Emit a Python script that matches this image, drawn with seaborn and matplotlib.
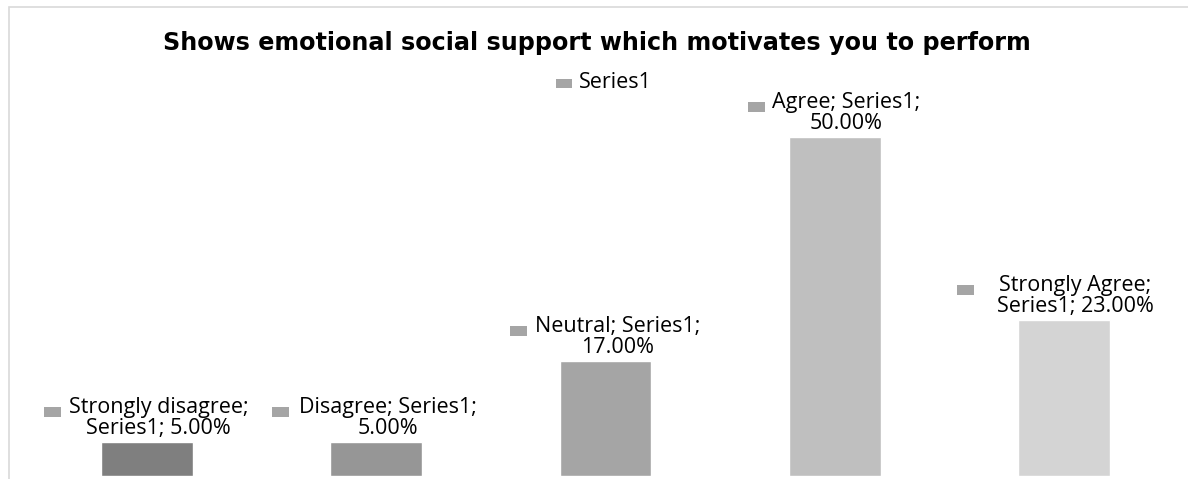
import matplotlib
matplotlib.use("Agg")
import matplotlib.pyplot as plt
import seaborn as sns
import pandas as pd
from matplotlib.patches import Rectangle

categories = ["Strongly disagree", "Disagree", "Neutral", "Agree", "Strongly Agree"]
values = [5.0, 5.0, 17.0, 50.0, 23.0]
series_name = "Series1"
title = "Shows emotional social support which motivates you to perform"
bar_colors = ["#7f7f7f", "#969696", "#a5a5a5", "#bfbfbf", "#d4d4d4"]
key_color = "#a5a5a5"

sns.set_theme(style="white")
plt.rcParams["font.family"] = ["Open Sans", "DejaVu Sans"]

W, H, DPI = 1188, 479, 100
PX = 72.0 / DPI  # points per pixel
LABEL_SIZE = 15.5
fig = plt.figure(figsize=(W / DPI, H / DPI), dpi=DPI)

# chart frame (runs past the right and bottom edges)
fig.patches.append(Rectangle((9 / W, -0.1), 1.2, (1 - 7 / H) + 0.1,
                             transform=fig.transFigure, fill=False,
                             edgecolor="#d9d9d9", linewidth=1.2))

ax = fig.add_axes([32 / W, 3 / H, (1179 - 32) / W, (476 - 69.2) / H])
df = pd.DataFrame({"category": categories, "value": values})
sns.barplot(data=df, x="category", y="value", hue="category",
            palette=bar_colors, order=categories, hue_order=categories,
            width=0.4, legend=False, ax=ax, saturation=1)
ax.set_ylim(0, 60)
ax.set_xlim(-0.5, len(categories) - 0.5)
ax.axis("off")

fig.text(0.5025, 1 - 43 / H, title, ha="center", va="center",
         fontsize=17.2, fontweight="bold", family="DejaVu Sans", color="#000000")

label_texts = [
    "Strongly disagree;\nSeries1; 5.00%",
    "Disagree; Series1;\n5.00%",
    "Neutral; Series1;\n17.00%",
    "Agree; Series1;\n50.00%",
    "Strongly Agree;\nSeries1; 23.00%",
]
x_shift = [12, 12, 12, 11, 11]
key_gap = [8, 10, 8, 7, 23]

texts = []
for i, (v, lab) in enumerate(zip(values, label_texts)):
    t = ax.annotate(lab, xy=(i, v), xytext=(x_shift[i] * PX, 3 * PX),
                    textcoords="offset points", ha="center", va="bottom",
                    fontsize=LABEL_SIZE, color="#000000", linespacing=0.98,
                    annotation_clip=False)
    texts.append(t)

fig.canvas.draw()
renderer = fig.canvas.get_renderer()
for t, gap in zip(texts, key_gap):
    bb = t.get_window_extent(renderer)
    # legend key square left of the label, beside the first line
    kx = bb.x0 - gap - 17
    ky = bb.y1 - 10 - 10
    fig.patches.append(Rectangle((kx / W, ky / H), 17 / W, 10 / H,
                                 transform=fig.transFigure,
                                 facecolor=key_color, edgecolor="none"))

# series legend
fig.patches.append(Rectangle((556 / W, (H - 88) / H), 16 / W, 9 / H,
                             transform=fig.transFigure,
                             facecolor=key_color, edgecolor="none"))
fig.text(579 / W, 1 - 83 / H, series_name, ha="left", va="center",
         fontsize=LABEL_SIZE, color="#000000")

fig.savefig("out.png", dpi=DPI)
